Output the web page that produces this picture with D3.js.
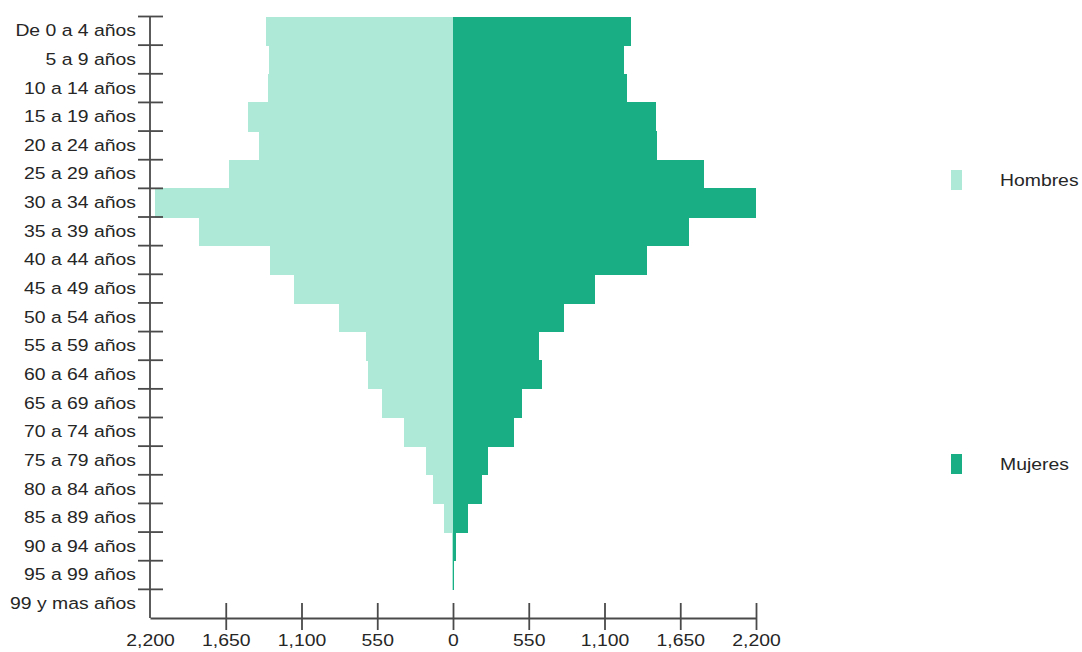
<!DOCTYPE html>
<html>
<head>
<meta charset="utf-8">
<script src="https://cdn.jsdelivr.net/npm/d3@7"></script>
<style>
  html, body { margin: 0; padding: 0; background: #fff; }
  svg { display: block; }
  text { font-family: "Liberation Sans", Arial, sans-serif; fill: #262626; }
</style>
</head>
<body>
<svg id="chart" width="1082" height="652"></svg>
<script>
const categories = ["De 0 a 4 años","5 a 9 años","10 a 14 años","15 a 19 años","20 a 24 años",
  "25 a 29 años","30 a 34 años","35 a 39 años","40 a 44 años","45 a 49 años","50 a 54 años",
  "55 a 59 años","60 a 64 años","65 a 69 años","70 a 74 años","75 a 79 años","80 a 84 años",
  "85 a 89 años","90 a 94 años","95 a 99 años","99 y mas años"];
const hombres = [1359,1335,1344,1492,1407,1623,2164,1846,1327,1158,830,631,619,513,358,198,144,67,6,8,0];
const mujeres = [1291,1238,1260,1475,1478,1822,2200,1713,1407,1029,806,627,649,498,442,253,207,108,25,4,0];
const xTickValues = [-2200,-1650,-1100,-550,0,550,1100,1650,2200];
const seriesNames = ["Hombres","Mujeres"];
const seriesColors = ["#aee8d6","#19ae84"];

const svg = d3.select("#chart");
const SX = 1.14;

const x = d3.scaleLinear().domain([-2200, 2200]).range([150, 756]);
const y = d3.scaleBand().domain(categories).range([16.5, 618]).padding(0);

// bars
svg.append("g").attr("shape-rendering", "crispEdges").selectAll("rect").data(categories).join("rect")
  .attr("x", (d,i) => x(-hombres[i]))
  .attr("y", d => y(d))
  .attr("width", (d,i) => x(0) - x(-hombres[i]))
  .attr("height", y.bandwidth() + 0.6)
  .attr("fill", seriesColors[0]);
svg.append("g").attr("shape-rendering", "crispEdges").selectAll("rect").data(categories).join("rect")
  .attr("x", x(0))
  .attr("y", d => y(d))
  .attr("width", (d,i) => x(mujeres[i]) - x(0))
  .attr("height", y.bandwidth() + 0.6)
  .attr("fill", seriesColors[1]);

const axisColor = "#4a4a4a";

// Y axis
const yAxis = svg.append("g").attr("transform", `translate(${x(-2200)},0)`)
  .call(d3.axisLeft(y).tickSize(0).tickPadding(0));
yAxis.select(".domain").remove();
yAxis.selectAll(".tick text")
  .attr("x", 0)
  .attr("transform", `translate(-14,0) scale(${SX},1)`)
  .style("font-size", "17px")
  .attr("fill", "#262626");
svg.append("line")
  .attr("x1", x(-2200)).attr("x2", x(-2200))
  .attr("y1", y.range()[0]).attr("y2", y.range()[1])
  .attr("stroke", axisColor).attr("stroke-width", 1.8);
svg.append("g").selectAll("line").data(categories).join("line")
  .attr("x1", x(-2200) - 12).attr("x2", x(-2200) + 13)
  .attr("y1", d => y(d)).attr("y2", d => y(d))
  .attr("stroke", axisColor).attr("stroke-width", 1.8);

// X axis
const xAxis = svg.append("g").attr("transform", `translate(0,${y.range()[1]})`)
  .call(d3.axisBottom(x).tickValues(xTickValues)
    .tickFormat(d => d3.format(",")(Math.abs(d))).tickSize(0));
xAxis.select(".domain").attr("stroke", axisColor).attr("stroke-width", 1.8);
xAxis.selectAll(".tick line")
  .filter(d => d !== -2200)
  .attr("y1", -15).attr("y2", 12)
  .attr("stroke", axisColor).attr("stroke-width", 1.8);
xAxis.selectAll(".tick text")
  .attr("y", 0).attr("dy", null)
  .attr("transform", `translate(0,28) scale(${SX},1)`)
  .style("font-size", "17px")
  .attr("fill", "#262626");

// Legend
const legendY = [180, 464];
const legend = svg.append("g").selectAll("g").data(seriesNames).join("g")
  .attr("transform", (d,i) => `translate(951,${legendY[i]})`);
legend.append("rect").attr("x", 0).attr("y", -10).attr("width", 11).attr("height", 20)
  .attr("fill", (d,i) => seriesColors[i]);
legend.append("text")
  .attr("transform", `translate(49,6) scale(${SX},1)`)
  .style("font-size", "17px")
  .text(d => d);
</script>
</body>
</html>
